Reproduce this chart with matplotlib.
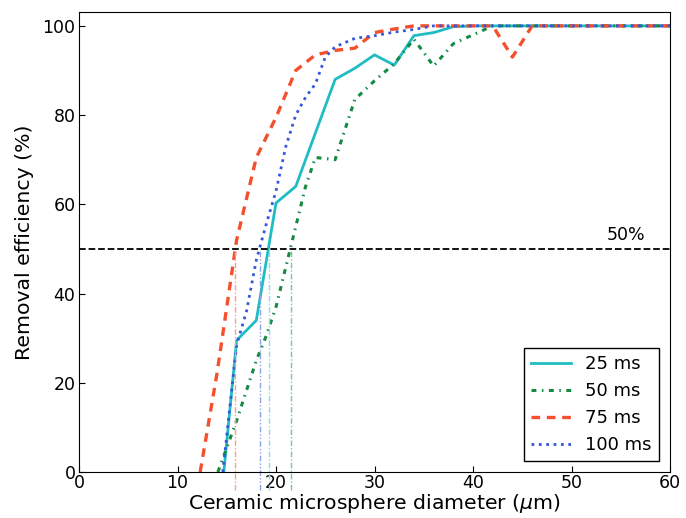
import numpy as np
import matplotlib
matplotlib.use('Agg')
import matplotlib.pyplot as plt

# removal efficiency (%) vs microsphere diameter (um)
x25 = [14.7, 16, 18, 20, 22, 24, 26, 28, 30, 32, 34, 36, 38, 40, 45, 50, 55, 60]
y25 = [0, 29.5, 34, 60.3, 64, 76, 88, 90.5, 93.5, 91.2, 97.8, 98.5, 99.8, 100, 100, 100, 100, 100]

x50 = [14.1, 16, 18, 19, 20, 21, 22, 23, 24, 26, 28, 30, 32, 34, 36, 38, 40, 42, 45, 50, 55, 60]
y50 = [0, 11.5, 25, 30.5, 37, 46, 55, 64, 70.5, 70, 83.5, 87.7, 91.5, 97, 91, 96, 98, 100, 100, 100, 100, 100]

x75 = [12.3, 14, 16, 18, 20, 22, 24, 26, 28, 30, 32, 34, 36, 38, 40, 42, 44, 46, 50, 55, 60]
y75 = [0, 22, 52, 70.5, 79.5, 90, 93.5, 94.5, 95, 98.5, 99.3, 100, 100, 100, 100, 100, 93, 100, 100, 100, 100]

x100 = [14.6, 16, 17, 18, 19, 20, 21, 22, 23, 24, 25, 26, 28, 30, 32, 34, 36, 40, 45, 50, 55, 60]
y100 = [0, 28.5, 36, 47.5, 55.5, 63, 73, 80, 84, 87, 93, 95.3, 97.2, 97.8, 98.6, 99.2, 100, 100, 100, 100, 100, 100]

# diameters where each curve crosses 50 %
d50 = [19.3, 21.5, 15.8, 18.4]

labels = ['25 ms', '50 ms', '75 ms', '100 ms']
colors = ['#1fbcc4', '#158a45', '#f5502e', '#3557dc']
light = ['#8fdbe6', '#7cc98f', '#f5a08c', '#8da2e8']

fig = plt.figure(figsize=(6.86, 5.18), dpi=100)
ax = fig.add_axes([0.1152, 0.0888, 0.8615, 0.8871])

ax.plot(x25, y25, '-', color=colors[0], lw=2, label=labels[0])
ax.plot(x50, y50, '-.', color=colors[1], lw=2.2, dashes=(1.6, 1.8, 0.5, 1.8), label=labels[1])
ax.plot(x75, y75, '--', color=colors[2], lw=2.4, dashes=(2.6, 2.0), label=labels[2])
ax.plot(x100, y100, ':', color=colors[3], lw=2, label=labels[3])

ax.axhline(50, color='k', ls='--', lw=1.3)
ax.text(55.5, 51, '50%', ha='center', va='bottom', fontsize=12.5)

styles = [(0, (4, 1.5, 1, 1.5)), (0, (4, 1.5, 1, 1.5)), (0, (4, 1.5, 1, 1.5)), (0, (4, 1.5, 1, 1.5, 1, 1.5))]
for d, c, s in zip(d50, light, styles):
    ax.vlines(d, -4, 50, colors=c, linestyles=s, lw=1, clip_on=False)

ax.set_xlim(0, 60)
ax.set_ylim(0, 103)
ax.set_xticks(np.arange(0, 61, 10))
ax.set_yticks(np.arange(0, 101, 20))
ax.tick_params(labelsize=12.5, direction='in', length=4)
ax.tick_params(axis='x', pad=1.5)
ax.tick_params(axis='y', pad=2.5)
ax.set_xlabel(r'Ceramic microsphere diameter ($\mu$m)', fontsize=14.7, labelpad=0)
ax.set_ylabel('Removal efficiency (%)', fontsize=14.7, labelpad=6)

leg = ax.legend(loc='lower right', fontsize=13, fancybox=False, framealpha=1,
                edgecolor='k', handlelength=2.2, borderaxespad=0.6)
leg.get_frame().set_linewidth(1)

fig.savefig('out.png', dpi=100)
